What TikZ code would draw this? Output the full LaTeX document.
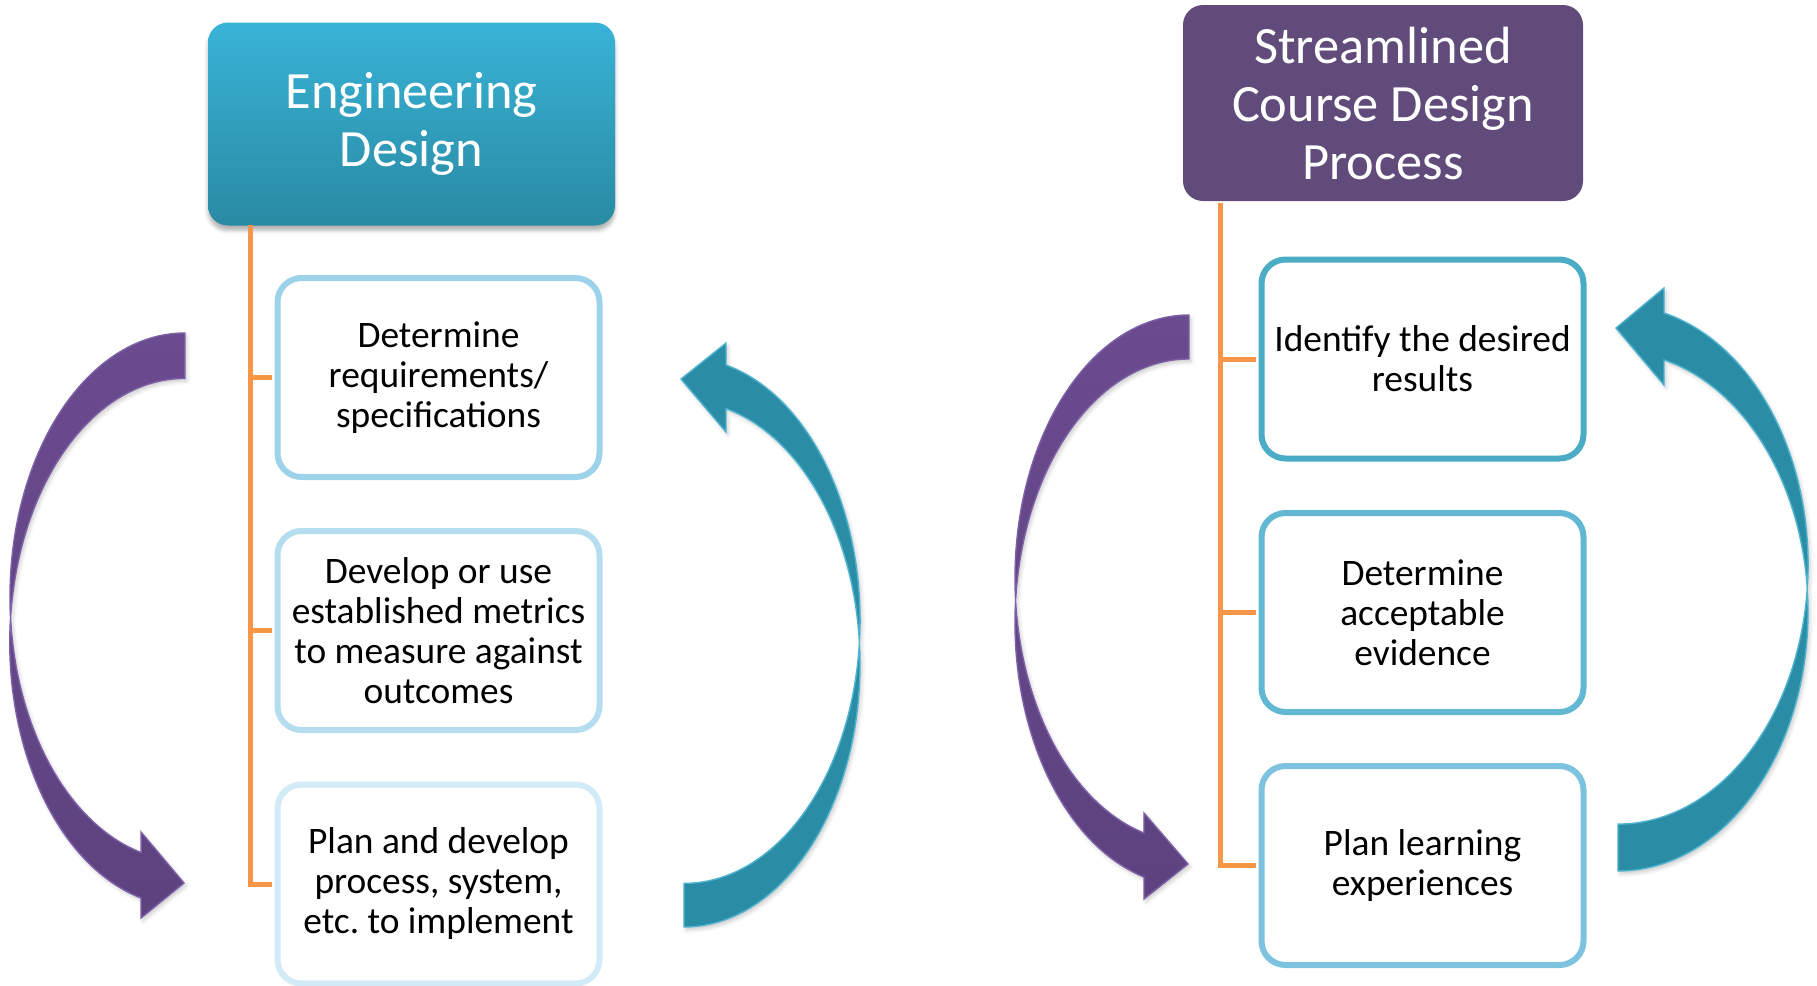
\documentclass[tikz,border=0pt]{standalone}
\usepackage{fontspec}
\setmainfont{Carlito}
\frenchspacing
\usetikzlibrary{shadows.blur}

\definecolor{engtop}{HTML}{38B3D7}
\definecolor{engbot}{HTML}{2A8AA3}
\definecolor{coursehead}{HTML}{604B7B}
\definecolor{treeline}{HTML}{F79646}
\definecolor{purptop}{HTML}{6A4B8E}
\definecolor{purpbot}{HTML}{5D427F}
\definecolor{purpedge}{HTML}{7D60A8}
\definecolor{tealfill}{HTML}{2B8CA6}
\definecolor{tealedge}{HTML}{4DB3CF}
% box outlines, one per step
\definecolor{engone}{HTML}{9CD2EA}
\definecolor{engtwo}{HTML}{B4DEF0}
\definecolor{engthree}{HTML}{D2EBF7}
\definecolor{crsone}{HTML}{4BACC6}
\definecolor{crstwo}{HTML}{62B7D3}
\definecolor{crsthree}{HTML}{7DC3DF}

\tikzset{
  header/.style={rounded corners=10pt, text=white, align=center, inner sep=0pt,
    font=\fontsize{26.2}{29}\selectfont},
  stepbox/.style={draw=#1, line width=3pt, fill=white, rounded corners=12pt,
    minimum width=161pt, minimum height=99.5pt, inner sep=0pt, align=center,
    font=\fontsize{18.7}{20}\selectfont},
  branch/.style={draw=treeline, line width=2.5pt, shorten >=1.4pt},
  purplearrow/.style={top color=purptop, bottom color=purpbot, draw=purpedge, line width=0.7pt,
    blur shadow={shadow xshift=1pt, shadow yshift=-1.5pt, shadow opacity=20}},
  tealarrow/.style={fill=tealfill, draw=tealedge, line width=0.7pt,
    blur shadow={shadow xshift=1pt, shadow yshift=-1.5pt, shadow opacity=20}},
}

\begin{document}
\begin{tikzpicture}[x=0.5pt, y=-0.5pt]
  \useasboundingbox (0,0) rectangle (1817,986);

  % left column: engineering design
  \node[header, top color=engtop, bottom color=engbot, minimum width=203.5pt, minimum height=101.5pt,
    blur shadow={shadow xshift=0pt, shadow yshift=-2.5pt, shadow opacity=30}]
    (eng) at (411.5,124) {Engineering\\Design};
  \node[stepbox=engone] (e1) at (438.5,377.5) {Determine\\requirements/\\specifications};
  \node[stepbox=engtwo] (e2) at (438.5,630.5) {Develop or use\\established metrics\\to measure against\\outcomes};
  \node[stepbox=engthree] (e3) at (438.5,884) {Plan and develop\\process, system,\\etc. to implement};

  \coordinate (eroot) at (250,225);
  \draw[branch] (eroot) |- (e1.west);
  \draw[branch] (eroot) |- (e2.west);
  \draw[branch] (eroot) |- (e3.west);

  % right column: course design
  \node[header, fill=coursehead, minimum width=200pt, minimum height=98pt]
    (crs) at (1383,103) {Streamlined\\Course Design\\Process};
  \node[stepbox=crsone] (c1) at (1422.5,359) {Identify the desired\\results};
  \node[stepbox=crstwo] (c2) at (1422.5,612.5) {Determine\\acceptable\\evidence};
  \node[stepbox=crsthree] (c3) at (1422.5,865.5) {Plan learning\\experiences};

  \coordinate (croot) at (1220,203);
  \draw[branch] (croot) |- (c1.west);
  \draw[branch] (croot) |- (c2.west);
  \draw[branch] (croot) |- (c3.west);

  % curved arrows round the left column
  \path[purplearrow] (185,333) arc[start angle=270, end angle=104.5, x radius=175, y radius=264]
    -- (141,832) -- (184,883) -- (141,918) -- (141,898)
    arc[start angle=104.5, end angle=270, x radius=175, y radius=264] -- cycle;
  \path[tealarrow] (684,927) arc[start angle=90, end angle=-76.2, x radius=176, y radius=263]
    -- (726,432) -- (681,379) -- (726,343) -- (726,365)
    arc[start angle=-76.2, end angle=90, x radius=176, y radius=263] -- cycle;

  % curved arrows round the right column
  \path[purplearrow] (1189,315) arc[start angle=270, end angle=105, x radius=174, y radius=263.5]
    -- (1144,813) -- (1188,864) -- (1144,899) -- (1144,877)
    arc[start angle=105, end angle=270, x radius=174, y radius=263.5] -- cycle;
  \path[tealarrow] (1618,871) arc[start angle=90, end angle=-76, x radius=190, y radius=259.4]
    -- (1664,385) -- (1616,328) -- (1664,288) -- (1664,313)
    arc[start angle=-76, end angle=90, x radius=190, y radius=259.4] -- cycle;
\end{tikzpicture}
\end{document}
